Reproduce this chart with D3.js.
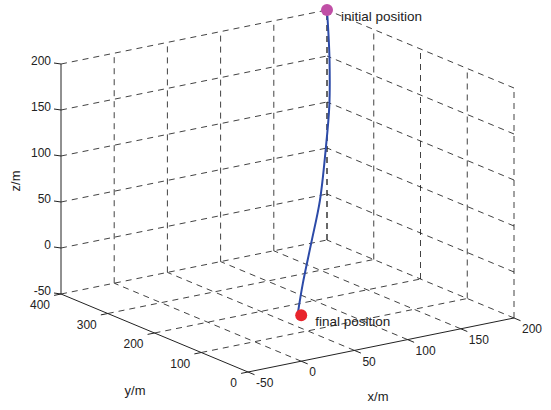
<!DOCTYPE html>
<html>
  <head>
    <meta charset="utf-8" />
    <script src="https://d3js.org/d3.v7.min.js"></script>
    <style>
      body { margin: 0; background: #fff; }
      text { font-family: "Liberation Sans", Arial, sans-serif; fill: #222; }
    </style>
  </head>
  <body>
    <script>
      // tick values on each axis
      const xTicks = [-50, 0, 50, 100, 150, 200];
      const yTicks = [0, 100, 200, 300, 400];
      const zTicks = [-50, 0, 50, 100, 150, 200];

      // trajectory (x, y, z in metres)
      const pathX = [200, 183, 169, 142, 113, 80, 49, 20, -1];
      const pathY = [400, 358, 324, 263, 205, 142, 90, 42, 5];
      const pathZ = [200, 185, 168, 139, 109, 76, 48, 21, 1];

      // start / end markers
      const markerNames = ["initial position", "final position"];
      const markerX = [200, 0];
      const markerY = [400, 0];
      const markerZ = [200, 0];
      const markerColors = ["#c04fa6", "#e8242c"];

      const width = 551, height = 410;

      const svg = d3.select("body").append("svg")
        .attr("width", width)
        .attr("height", height);

      // each axis maps to 0..1 along its own direction on screen
      const xs = d3.scaleLinear().domain([-50, 200]).range([0, 1]);
      const ys = d3.scaleLinear().domain([0, 400]).range([0, 1]);
      const zs = d3.scaleLinear().domain([-50, 200]).range([0, 1]);

      // screen position of the corner (x=-50, y=0, z=-50) and the axis directions
      const O = [248, 372];
      const EX = [266, -54];
      const EY = [-187, -78];
      const EZ = [0, -230];

      function project(x, y, z) {
        const a = xs(x), b = ys(y), c = zs(z);
        return [
          O[0] + a * EX[0] + b * EY[0] + c * EZ[0],
          O[1] + a * EX[1] + b * EY[1] + c * EZ[1]
        ];
      }

      const gridLines = [];
      // back wall y = 400
      xTicks.slice(1).forEach(x => gridLines.push([project(x, 400, -50), project(x, 400, 200)]));
      zTicks.slice(1).forEach(z => gridLines.push([project(-50, 400, z), project(200, 400, z)]));
      // side wall x = 200
      yTicks.forEach(y => gridLines.push([project(200, y, -50), project(200, y, 200)]));
      zTicks.slice(1).forEach(z => gridLines.push([project(200, 0, z), project(200, 400, z)]));
      // floor z = -50
      xTicks.slice(1).forEach(x => gridLines.push([project(x, 0, -50), project(x, 400, -50)]));
      yTicks.slice(1).forEach(y => gridLines.push([project(-50, y, -50), project(200, y, -50)]));

      svg.append("g")
        .selectAll("line")
        .data(gridLines)
        .join("line")
        .attr("x1", d => d[0][0]).attr("y1", d => d[0][1])
        .attr("x2", d => d[1][0]).attr("y2", d => d[1][1])
        .attr("stroke", "#111")
        .attr("stroke-width", 0.8)
        .attr("stroke-dasharray", "6,5");

      // solid axis lines
      const axisLines = [
        [project(-50, 0, -50), project(200, 0, -50)],
        [project(-50, 0, -50), project(-50, 400, -50)],
        [project(-50, 400, -50), project(-50, 400, 200)]
      ];
      svg.append("g")
        .selectAll("line")
        .data(axisLines)
        .join("line")
        .attr("x1", d => d[0][0]).attr("y1", d => d[0][1])
        .attr("x2", d => d[1][0]).attr("y2", d => d[1][1])
        .attr("stroke", "#222")
        .attr("stroke-width", 1);

      const tickG = svg.append("g").attr("stroke", "#222").attr("stroke-width", 1);

      // x ticks
      xTicks.forEach(x => {
        const p = project(x, 0, -50);
        tickG.append("line").attr("x1", p[0]).attr("y1", p[1])
          .attr("x2", p[0] + 6.5).attr("y2", p[1] + 2.7);
        svg.append("text").attr("x", p[0] + 8).attr("y", p[1] + 12)
          .attr("dominant-baseline", "middle")
          .attr("font-size", 12)
          .text(x);
      });

      // y ticks
      yTicks.forEach(y => {
        const p = project(-50, y, -50);
        tickG.append("line").attr("x1", p[0]).attr("y1", p[1])
          .attr("x2", p[0] - 6.9).attr("y2", p[1] + 1.4);
        svg.append("text").attr("x", p[0] - 11).attr("y", p[1] + 12)
          .attr("text-anchor", "end")
          .attr("dominant-baseline", "middle")
          .attr("font-size", 12)
          .text(y);
      });

      // z ticks
      zTicks.forEach(z => {
        const p = project(-50, 400, z);
        tickG.append("line").attr("x1", p[0]).attr("y1", p[1])
          .attr("x2", p[0] - 7).attr("y2", p[1] - 1);
        svg.append("text").attr("x", p[0] - 10).attr("y", p[1] - 2)
          .attr("text-anchor", "end")
          .attr("dominant-baseline", "middle")
          .attr("font-size", 12)
          .text(z);
      });

      // axis labels
      svg.append("text").attr("x", 378).attr("y", 398)
        .attr("text-anchor", "middle").attr("dominant-baseline", "middle")
        .attr("font-size", 13).text("x/m");
      svg.append("text").attr("x", 135).attr("y", 392)
        .attr("text-anchor", "middle").attr("dominant-baseline", "middle")
        .attr("font-size", 13).text("y/m");
      svg.append("text")
        .attr("transform", "translate(17,181) rotate(-90)")
        .attr("text-anchor", "middle").attr("dominant-baseline", "middle")
        .attr("font-size", 13).text("z/m");

      // trajectory
      const pts = pathX.map((x, i) => project(x, pathY[i], pathZ[i]));
      svg.append("path")
        .attr("d", d3.line().curve(d3.curveCatmullRom)(pts))
        .attr("fill", "none")
        .attr("stroke", "#2c4aa8")
        .attr("stroke-width", 2);

      // markers and their labels
      markerNames.forEach((name, i) => {
        const p = project(markerX[i], markerY[i], markerZ[i]);
        svg.append("circle")
          .attr("cx", p[0]).attr("cy", p[1]).attr("r", 6)
          .attr("fill", markerColors[i]);
        svg.append("text")
          .attr("x", p[0] + 14).attr("y", p[1] + 7)
          .attr("dominant-baseline", "middle")
          .attr("font-size", 13.5)
          .text(name);
      });
    </script>
  </body>
</html>
